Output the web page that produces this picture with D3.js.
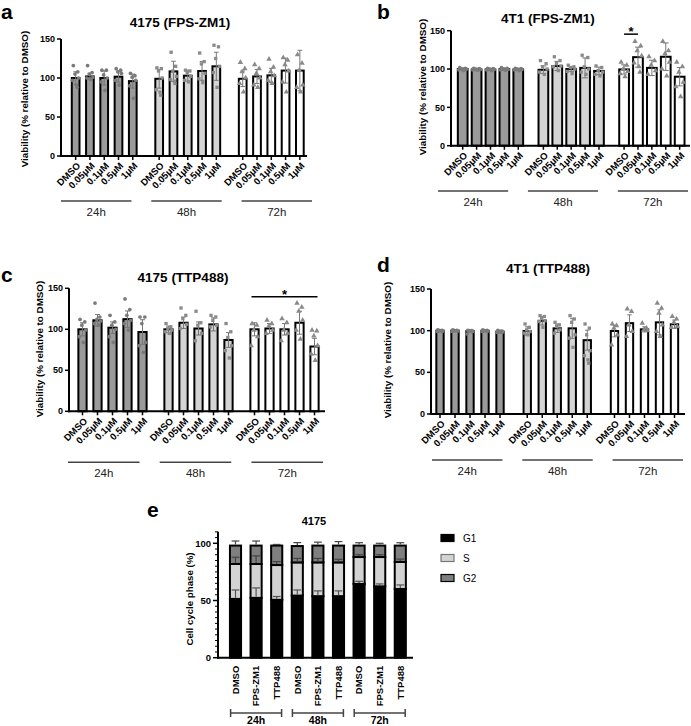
<!DOCTYPE html>
<html><head><meta charset="utf-8">
<script src="https://cdn.jsdelivr.net/npm/d3@7"></script>
<style>body{margin:0;background:#fff}svg{display:block}text{font-family:"Liberation Sans",Arial,sans-serif}</style>
</head><body><svg id="fig" width="691" height="726"></svg>
<script>
// ---------------- data ----------------
const concentrations = ["DMSO", "0.05μM", "0.1μM", "0.5μM", "1μM"];
const timepoints = ["24h", "48h", "72h"];
const viabilityTicks = [0, 50, 100, 150];

// Panel a: 4175 (FPS-ZM1)
const aMean = [[100, 102, 100, 101.7, 96], [99, 108.5, 103, 109, 115], [99, 102, 103.4, 109.5, 109.5]];
const aSD = [[8, 4, 9, 7, 9], [12, 13, 7, 12, 18], [10, 9, 9, 16, 26]];
const aPts = [
  [[116,108,105,100,97,91,88],[116,107,105,101,100,98],[110,110,104,100,95,84],[112,110,108,106,97,91],[106,103,101,97,90,74]],
  [[113,112,109,100,85,82,78],[133,115,109,102,98,96,93],[110,109,107,102,97,95],[132,121,118,106,99,94],[142,140,125,115,107,88]],
  [[120,112,108,100,93,82],[117,112,106,100,91,88],[124,114,108,103,97,93],[126,123,117,109,95,82],[130,119,110,91,88,82]]
];
// Panel b: 4T1 (FPS-ZM1)
const bMean = [[100, 99.5, 99.5, 100, 99.5], [99, 104, 100, 101.5, 97.5], [99.5, 115.5, 101.5, 116, 90]];
const bSD = [[1.5, 1.5, 1.5, 1.5, 1.5], [5, 6, 3, 13, 5], [6, 13, 10, 18, 12]];
const bPts = [
  [[102,101,100,100,99,98],[101,100.5,100,99.5,99,98.5],[101,100.5,100,99.5,99,98],[102,101,100,99.5,99,98.5],[101,100.5,100,99.5,99,98]],
  [[111,107,103,100,96,93],[116,111,107,104,103,98],[105,103,102,100,97,94],[118,115,103,100,96,93],[104,102,98,96,93,91]],
  [[109,105,100,97,94,90],[136,130,124,117,108,103,96],[116,111,105,98,93],[136,124,120,109,100,91],[109,103,96,83,77,64]]
];
// Panel c: 4175 (TTP488)
const cMean = [[100, 111, 102, 112.4, 96.7], [100, 108, 101, 106, 87], [100, 101, 100, 108, 79]];
const cSD = [[8, 7, 7, 10, 15], [4, 7, 8, 8, 9], [8, 6, 7, 14, 10]];
const cPts = [
  [[112,109,105,99,91,84],[132,115,112,110,107,105],[117,109,105,100,91,84],[137,124,117,111,107,99],[115,115,107,84,80,72]],
  [[107,103,101,99,97,95],[126,117,113,106,101],[122,108,105,95,86],[117,115,111,105,103],[107,97,90,80,74,65]],
  [[107,105,99,91,80],[111,107,104,99,95],[113,108,99,95,86],[132,127,122,111,99,88],[99,98,92,80,70,62]]
];
// Panel d: 4T1 (TTP488)
const dMean = [[100, 100, 99.5, 99.8, 98.8], [99.6, 111.8, 102.8, 102.8, 88.6], [99.6, 109, 101.6, 110, 107.7]];
const dSD = [[1.5, 1.5, 2, 1.5, 2], [5, 5, 5, 12, 12], [7, 10, 3, 15, 5]];
const dPts = [
  [[101,100.5,100,99.5,99],[101,100.5,100,99.5,99],[100.5,100,99.5,99,96],[101,100.5,100,99.5,99],[100.5,99.5,99,98.5,98]],
  [[108,104,101,99,97,95],[118,117,115,112,111,104],[110,107,105,101,97],[118,114,110,95,91,80],[108,103,95,76,70,65,61]],
  [[108,106,103,95,83],[126,123,107,99,93],[109,103,101,100],[133,127,121,107,99,93],[117,114,110,105,104]]
];
// Panel e: 4175 cell cycle
const cycleTreatments = ["DMSO", "FPS-ZM1", "TTP488"];
const cycleTimes = ["24h", "48h", "72h"];
const cycleTicks = [0, 50, 100];
const phases = ["G1", "S", "G2"];
const g1Val = [51.4, 52.3, 50.6, 54.3, 53.8, 53.8, 64.5, 62.4, 60.1];
const g1SD = [7.8, 8.7, 2.9, 4.9, 4.6, 4.6, 2.3, 2.1, 3.5];
const sVal = [30.5, 29.6, 30.4, 29.0, 29.5, 29.5, 23.5, 25.6, 23.6];
const sSD = [5.9, 7.1, 3.0, 3.5, 3.5, 2.7, 2.0, 2.0, 2.5];
const g2Val = [16.1, 16.1, 17.0, 14.3, 14.7, 14.7, 10.0, 10.0, 14.3];
const g2SD = [4.0, 4.0, 1.0, 3.0, 3.0, 3.5, 2.5, 2.0, 2.5];

// ---------------- drawing ----------------
const svg = d3.select("#fig");
const fills = ["#9a9a9a", "#d4d4d4", "#ffffff"];
const shapes = [d3.symbolCircle, d3.symbolSquare, d3.symbolTriangle];
const jit = [-0.3, 0.28, -0.08, 0.38, -0.4, 0.1, 0.2];

function viabilityPanel(p) {
  const g = svg.append("g");
  const y = d3.scaleLinear().domain([0, 150]).range([p.y0, p.y150]);
  const gx = d3.scaleBand().domain(timepoints).range(p.groupRange).paddingInner(p.gpad).paddingOuter(0);
  const ix = d3.scaleBand().domain(concentrations).range([0, gx.bandwidth()]).paddingInner(p.bpad).paddingOuter(p.bpad / 2);
  const w = ix.bandwidth();
  const cxOf = (ti, ci) => gx(timepoints[ti]) + ix(concentrations[ci]) + w / 2;

  timepoints.forEach((t, ti) => {
    concentrations.forEach((c, ci) => {
      const m = p.mean[ti][ci], sd = p.sd[ti][ci], cx = cxOf(ti, ci);
      g.append("rect").attr("x", cx - w / 2).attr("y", y(m)).attr("width", w).attr("height", y(0) - y(m))
        .attr("fill", fills[ti]).attr("stroke", "#000").attr("stroke-width", 2);
      const eg = g.append("g").attr("stroke", "#777").attr("stroke-width", 1);
      eg.append("line").attr("x1", cx).attr("x2", cx).attr("y1", y(m - sd)).attr("y2", y(m + sd));
      [m - sd, m + sd].forEach(v => eg.append("line").attr("x1", cx - w * 0.3).attr("x2", cx + w * 0.3).attr("y1", y(v)).attr("y2", y(v)));
      p.pts[ti][ci].forEach((v, k) => {
        g.append("path").attr("d", d3.symbol(shapes[ti], ti === 2 ? 13 : 11)())
          .attr("transform", `translate(${cx + jit[k % jit.length] * w},${y(v)})`)
          .attr("fill", ti === 0 ? "#7a7a7a" : "#8a8a8a");
      });
    });
  });

  // axes
  const ax = g.append("g").attr("stroke", "#000");
  ax.append("line").attr("x1", p.axisX).attr("x2", p.axisX).attr("y1", p.y0 + 1).attr("y2", p.y150).attr("stroke-width", 2);
  ax.append("line").attr("x1", p.axisX - 1).attr("x2", p.axisEnd).attr("y1", p.y0).attr("y2", p.y0).attr("stroke-width", 2);
  viabilityTicks.forEach(v => {
    ax.append("line").attr("x1", p.axisX - 4).attr("x2", p.axisX).attr("y1", y(v)).attr("y2", y(v)).attr("stroke-width", 1.5);
    g.append("text").attr("x", p.axisX - 6).attr("y", y(v)).attr("dy", "0.35em").attr("text-anchor", "end")
      .attr("font-size", 9).attr("font-weight", "bold").text(v);
  });
  timepoints.forEach((t, ti) => concentrations.forEach((c, ci) => {
    const cx = cxOf(ti, ci);
    ax.append("line").attr("x1", cx).attr("x2", cx).attr("y1", p.y0).attr("y2", p.y0 + 4).attr("stroke-width", 1.5);
    g.append("text").attr("transform", `translate(${cx + 3},${p.y0 + 8}) rotate(-45)`)
      .attr("text-anchor", "end").attr("dy", "0.35em").attr("font-size", 9.5).attr("font-weight", "bold").text(c);
  }));

  // time group lines
  const lx = d3.scaleBand().domain(timepoints).range(p.lineRange).paddingInner(0.22).paddingOuter(0);
  timepoints.forEach(t => {
    g.append("line").attr("x1", lx(t)).attr("x2", lx(t) + lx.bandwidth()).attr("y1", p.lineY).attr("y2", p.lineY)
      .attr("stroke", "#444").attr("stroke-width", 1.5);
    g.append("text").attr("x", lx(t) + lx.bandwidth() / 2).attr("y", p.lineY + 15).attr("text-anchor", "middle")
      .attr("font-family", "Roboto, sans-serif").attr("font-size", 11.5).attr("fill", "#222").text(t);
  });

  // titles
  g.append("text").attr("x", p.title[0]).attr("y", p.title[1]).attr("text-anchor", "middle")
    .attr("font-size", 13.5).attr("font-weight", "bold").text(p.titleText);
  g.append("text").attr("x", p.letter[0]).attr("y", p.letter[1]).attr("font-size", 21).attr("font-weight", "bold").text(p.letterText);
  g.append("text").attr("transform", `translate(${p.ylab[0]},${p.ylab[1]}) rotate(-90)`).attr("text-anchor", "middle")
    .attr("dy", "0.35em").attr("font-size", 9.8).attr("font-weight", "bold").text("Viability (% relative to DMSO)");

  if (p.sig) {
    const x1 = cxOf(p.sig.group, p.sig.from), x2 = cxOf(p.sig.group, p.sig.to);
    g.append("line").attr("x1", x1 - (p.sig.ext || 0)).attr("x2", x2 + (p.sig.ext || 0)).attr("y1", y(p.sig.value)).attr("y2", y(p.sig.value))
      .attr("stroke", "#000").attr("stroke-width", 1.5);
    g.append("text").attr("x", (x1 + x2) / 2).attr("y", y(p.sig.value) + 2).attr("text-anchor", "middle")
      .attr("font-size", 13).attr("font-weight", "bold").text("*");
  }
}

viabilityPanel({mean: aMean, sd: aSD, pts: aPts, axisX: 61, axisEnd: 307, y0: 156, y150: 39,
  groupRange: [68.5, 307], gpad: 0.145, bpad: 0.46, lineRange: [61, 312], lineY: 201,
  title: [180, 27], titleText: "4175 (FPS-ZM1)", letter: [1, 19], letterText: "a", ylab: [25, 99]});
viabilityPanel({mean: bMean, sd: bSD, pts: bPts, axisX: 451, axisEnd: 690, y0: 145.7, y150: 30.7,
  groupRange: [455.75, 686.6], gpad: 0.139, bpad: 0.3, lineRange: [438, 688], lineY: 191,
  title: [548, 23], titleText: "4T1 (FPS-ZM1)", letter: [377, 19], letterText: "b", ylab: [423, 87],
  sig: {group: 2, from: 0, to: 1, value: 145.5, ext: 0}});
viabilityPanel({mean: cMean, sd: cSD, pts: cPts, axisX: 69, axisEnd: 325, y0: 411.3, y150: 288.3,
  groupRange: [75, 322], gpad: 0.128, bpad: 0.45, lineRange: [68, 323], lineY: 462.3,
  title: [183, 282], titleText: "4175 (TTP488)", letter: [1, 282], letterText: "c", ylab: [40, 349],
  sig: {group: 2, from: 0, to: 4, value: 139.8, ext: 3}});
viabilityPanel({mean: dMean, sd: dSD, pts: dPts, axisX: 431, axisEnd: 685, y0: 414, y150: 289,
  groupRange: [432.5, 682], gpad: 0.14, bpad: 0.51, lineRange: [432, 683], lineY: 460,
  title: [548, 273], titleText: "4T1 (TTP488)", letter: [377, 272], letterText: "d", ylab: [388, 350]});

// ---------------- panel e ----------------
(function () {
  const g = svg.append("g");
  const cats = d3.range(9);
  const x = d3.scaleBand().domain(cats).range([225.2, 410.6]).paddingInner(0.46).paddingOuter(0.23);
  const y = d3.scaleLinear().domain([0, 100]).range([657.7, 543.3]);
  const w = x.bandwidth();
  const phaseFill = ["#000000", "#d3d3d3", "#7f7f7f"];
  cats.forEach(i => {
    const vals = [g1Val[i], sVal[i], g2Val[i]];
    const sds = [g1SD[i], sSD[i], g2SD[i]];
    let base = 0;
    vals.forEach((v, k) => {
      g.append("rect").attr("x", x(i)).attr("y", y(base + v)).attr("width", w).attr("height", y(base) - y(base + v))
        .attr("fill", phaseFill[k]).attr("stroke", "#000").attr("stroke-width", 2);
      base += v;
    });
    base = 0;
    vals.forEach((v, k) => {
      const top = base + v, cx = x(i) + w / 2;
      const eg = g.append("g").attr("stroke", k === 0 ? "#555" : "#444").attr("stroke-width", 1.2);
      eg.append("line").attr("x1", cx).attr("x2", cx).attr("y1", y(top) - 1).attr("y2", y(top + sds[k]));
      eg.append("line").attr("x1", cx - w * 0.35).attr("x2", cx + w * 0.35).attr("y1", y(top + sds[k])).attr("y2", y(top + sds[k]));
      base = top;
    });
  });
  // axes
  const ax = g.append("g").attr("stroke", "#000");
  ax.append("line").attr("x1", 218).attr("x2", 218).attr("y1", y(0) + 1).attr("y2", y(110)).attr("stroke-width", 2);
  ax.append("line").attr("x1", 217).attr("x2", 413).attr("y1", y(0)).attr("y2", y(0)).attr("stroke-width", 2);
  d3.range(0, 111, 5).forEach(v => {
    const major = cycleTicks.includes(v);
    ax.append("line").attr("x1", 218 - (major ? 5 : 3)).attr("x2", 218).attr("y1", y(v)).attr("y2", y(v)).attr("stroke-width", major ? 1.5 : 1);
  });
  cycleTicks.forEach(v => g.append("text").attr("x", 211).attr("y", y(v)).attr("dy", "0.35em").attr("text-anchor", "end")
    .attr("font-size", 9.5).attr("font-weight", "bold").text(v));
  cats.forEach(i => {
    const cx = x(i) + w / 2;
    g.append("text").attr("transform", `translate(${cx},${y(0) + 8}) rotate(-90)`).attr("text-anchor", "end")
      .attr("dy", "0.35em").attr("font-size", 9.5).attr("font-weight", "bold").text(cycleTreatments[i % 3]);
  });
  // brackets
  cycleTimes.forEach((t, gi) => {
    const c = (x(gi * 3) + x(gi * 3 + 2) + w) / 2;
    const bg = g.append("g").attr("stroke", "#444").attr("stroke-width", 1.5);
    bg.append("line").attr("x1", c - 25.5).attr("x2", c + 25.5).attr("y1", 713).attr("y2", 713);
    [c - 25.5, c + 25.5].forEach(xx => bg.append("line").attr("x1", xx).attr("x2", xx).attr("y1", 709).attr("y2", 717));
    g.append("text").attr("x", c).attr("y", 724).attr("text-anchor", "middle").attr("font-size", 10.5).attr("font-weight", "bold").text(t);
  });
  // legend
  phases.forEach((ph, k) => {
    const cy = 538 + k * 20;
    g.append("rect").attr("x", 441).attr("y", cy - 3.5).attr("width", 13).attr("height", 7)
      .attr("fill", phaseFill[k]).attr("stroke", k === 1 ? "#777" : "#000").attr("stroke-width", 1.2);
    g.append("text").attr("x", 463).attr("y", cy).attr("dy", "0.35em").attr("font-size", 10).text(ph);
  });
  g.append("text").attr("x", 314).attr("y", 525).attr("text-anchor", "middle").attr("font-size", 11).attr("font-weight", "bold").text("4175");
  g.append("text").attr("x", 147).attr("y", 517).attr("font-size", 21).attr("font-weight", "bold").text("e");
  g.append("text").attr("transform", "translate(190,599) rotate(-90)").attr("text-anchor", "middle").attr("dy", "0.35em")
    .attr("font-size", 9.7).attr("font-weight", "bold").text("Cell cycle phase (%)");
})();
</script></body></html>
